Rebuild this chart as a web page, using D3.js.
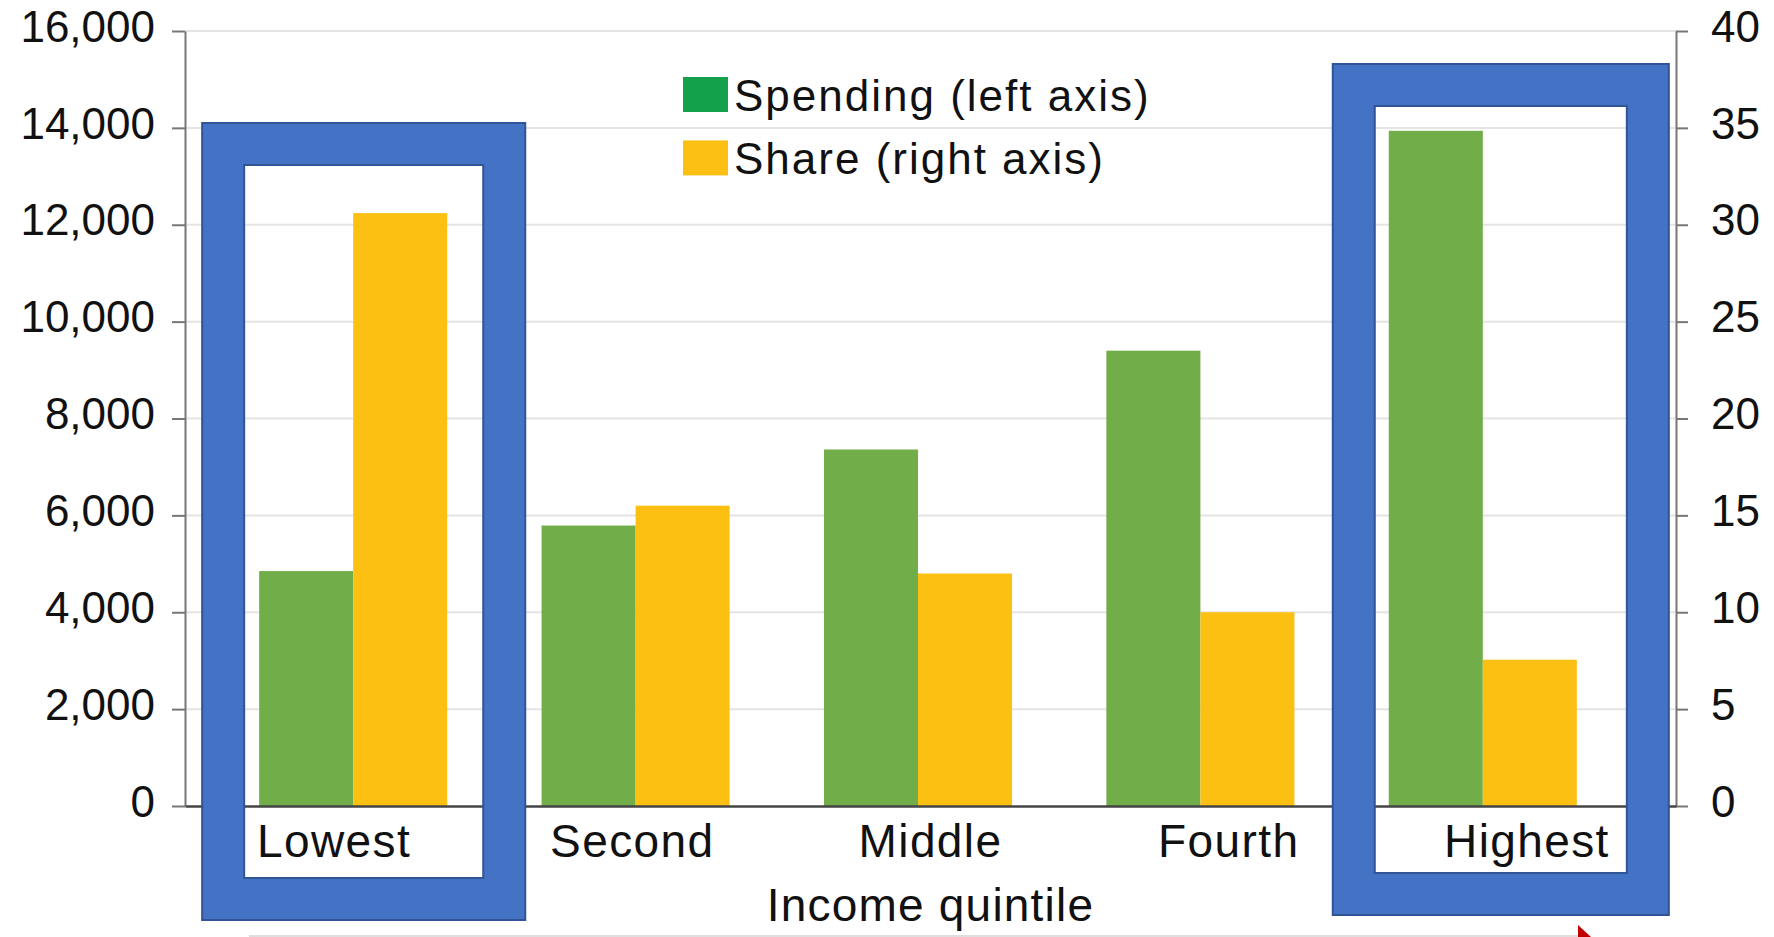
<!DOCTYPE html>
<html>
<head>
<meta charset="utf-8">
<script src="https://cdn.jsdelivr.net/npm/d3@7"></script>
<style>
  html, body { margin: 0; padding: 0; background: #fff; }
  svg { display: block; font-family: "Liberation Sans", Arial, Helvetica, sans-serif; }
</style>
</head>
<body>
<div class="chart"></div>
<script>
// data
var categories = ['Lowest', 'Second', 'Middle', 'Fourth', 'Highest'];
var spending = [4850, 5790, 7360, 9400, 13940];   // left axis
var share = [30.6, 15.5, 12.0, 10.0, 7.55];        // right axis, %
var leftTicks = [0, 2000, 4000, 6000, 8000, 10000, 12000, 14000, 16000];
var rightTicks = [0, 5, 10, 15, 20, 25, 30, 35, 40];
var seriesNames = ['Spending (left axis)', 'Share (right axis)'];
var highlighted = ['Lowest', 'Highest'];

var width = 1774;
var height = 937;

var svg = d3.select('.chart')
            .append('svg')
            .attr('width', width)
            .attr('height', height);

// Scales
var plotLeft = 185, plotRight = 1676, plotTop = 31, plotBottom = 806;

var yLeft = d3.scaleLinear().domain([0, 16000]).range([plotBottom, plotTop]);
var yRight = d3.scaleLinear().domain([0, 40]).range([plotBottom, plotTop]);

// bar groups (slightly narrower than the axis span in the original)
var x0 = d3.scaleBand()
           .domain(categories)
           .range([212, 1624])
           .paddingInner(0.334)
           .paddingOuter(0.167);
var x1 = d3.scaleBand()
           .domain(['spending', 'share'])
           .range([0, x0.bandwidth()]);

// label scale spans the full axis
var xLabel = d3.scaleBand().domain(categories).range([plotLeft, plotRight]);

// gridlines
svg.append('g')
   .selectAll('line')
   .data(leftTicks.filter(function(d){ return d > 0; }))
   .enter()
   .append('line')
   .attr('x1', plotLeft)
   .attr('x2', plotRight)
   .attr('y1', function(d){ return yLeft(d); })
   .attr('y2', function(d){ return yLeft(d); })
   .attr('stroke', '#e4e4e4')
   .attr('stroke-width', 2);

// bars
var groups = svg.append('g')
   .selectAll('g')
   .data(categories)
   .enter()
   .append('g')
   .attr('transform', function(d){ return 'translate(' + x0(d) + ',0)'; });

groups.append('rect')
   .attr('x', x1('spending'))
   .attr('width', x1.bandwidth())
   .attr('y', function(d, i){ return yLeft(spending[i]); })
   .attr('height', function(d, i){ return yLeft(0) - yLeft(spending[i]); })
   .attr('fill', '#71ad48');

groups.append('rect')
   .attr('x', x1('share'))
   .attr('width', x1.bandwidth())
   .attr('y', function(d, i){ return yRight(share[i]); })
   .attr('height', function(d, i){ return yRight(0) - yRight(share[i]); })
   .attr('fill', '#fcc012');

// Axis
var leftAxis = svg.append('g')
   .attr('transform', 'translate(' + plotLeft + ',0)')
   .call(d3.axisLeft(yLeft).tickValues(leftTicks).tickFormat(d3.format(','))
           .tickSize(13).tickSizeOuter(0).tickPadding(17));

var rightAxis = svg.append('g')
   .attr('transform', 'translate(' + plotRight + ',0)')
   .call(d3.axisRight(yRight).tickValues(rightTicks)
           .tickSize(12).tickSizeOuter(0).tickPadding(23));

[leftAxis, rightAxis].forEach(function(a){
  a.select('.domain').attr('stroke', '#777').attr('stroke-width', 2);
  a.selectAll('.tick line').attr('stroke', '#777').attr('stroke-width', 2);
  a.selectAll('.tick text')
   .attr('fill', '#111')
   .attr('dy', '0.23em')
   .style('font-size', '44px')
   .style('font-family', '"Liberation Sans", Arial, sans-serif');
});

var bottomAxis = svg.append('g')
   .attr('transform', 'translate(0,' + plotBottom + ')')
   .call(d3.axisBottom(xLabel).tickSize(0).tickSizeOuter(0));

bottomAxis.select('.domain').attr('stroke', '#444').attr('stroke-width', 2.5);
bottomAxis.selectAll('.tick text')
   .attr('y', 51)
   .attr('dy', 0)
   .attr('fill', '#111')
   .style('font-size', '46px')
   .style('letter-spacing', '1.4px')
   .style('font-family', '"Liberation Sans", Arial, sans-serif');

svg.append('text')
   .attr('x', (plotLeft + plotRight) / 2)
   .attr('y', 921)
   .attr('text-anchor', 'middle')
   .attr('fill', '#111')
   .style('font-size', '46px')
   .style('letter-spacing', '1.2px')
   .text('Income quintile');

// Legend
var legendColors = ['#13a24b', '#fcc014'];
var legend = svg.append('g')
   .selectAll('g')
   .data(seriesNames)
   .enter()
   .append('g')
   .attr('transform', function(d, i){ return 'translate(683,' + (77 + i * 63.4) + ')'; });

legend.append('rect')
   .attr('width', 45)
   .attr('height', 35)
   .attr('fill', function(d, i){ return legendColors[i]; });

legend.append('text')
   .attr('x', 51)
   .attr('y', 34)
   .attr('fill', '#111')
   .style('font-size', '44px')
   .style('letter-spacing', '2px')
   .text(function(d){ return d; });

// highlight frames (annotation), placed around the bar groups
var framePad = { Lowest: [15, 36, 165, 878], Highest: [14, 50, 106, 873] };
var thick = 42;
svg.append('g')
   .selectAll('path')
   .data(highlighted)
   .enter()
   .append('path')
   .attr('d', function(d){
      var p = framePad[d];
      var l = x0(d) - p[0], r = x0(d) + x0.bandwidth() + p[1];
      var t = p[2], b = p[3];
      var outer = 'M' + (l - thick) + ',' + (t - thick) + 'H' + (r + thick) + 'V' + (b + thick) + 'H' + (l - thick) + 'Z';
      var inner = 'M' + l + ',' + t + 'H' + r + 'V' + b + 'H' + l + 'Z';
      return outer + inner;
   })
   .attr('fill-rule', 'evenodd')
   .attr('fill', '#4472c4')
   .attr('stroke', '#2f5597')
   .attr('stroke-width', 2);

// bottom rule and pointer remnant
svg.append('line')
   .attr('x1', 249).attr('x2', 1580)
   .attr('y1', 936).attr('y2', 936)
   .attr('stroke', '#dedede').attr('stroke-width', 2);

svg.append('path')
   .attr('d', 'M1578,925L1578,937L1591,937Z')
   .attr('fill', '#c00000');
</script>
</body>
</html>
